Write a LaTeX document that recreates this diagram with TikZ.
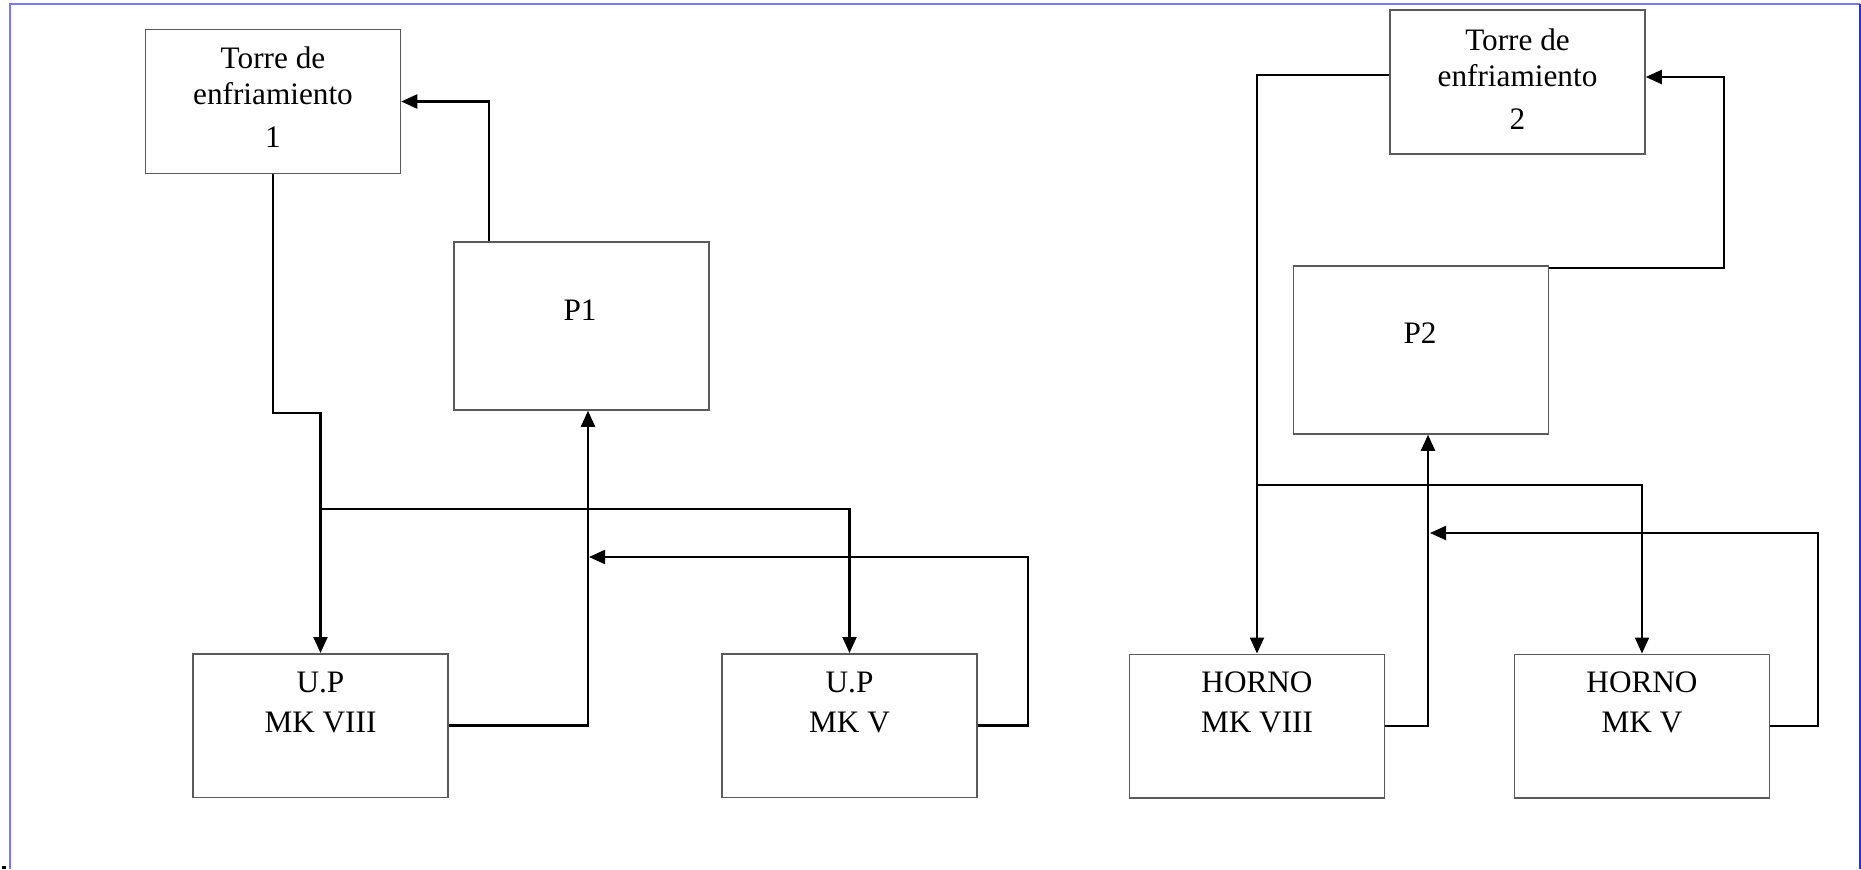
\documentclass[tikz,border=0pt]{standalone}
\usepackage{fontspec}
\setmainfont{Liberation Serif}
\usetikzlibrary{arrows.meta}
\definecolor{framelight}{RGB}{120,120,255}
\definecolor{framedark}{RGB}{40,40,255}
\definecolor{boxgray}{RGB}{90,90,90}
\newcommand{\mlines}[1]{\begin{tabular}[t]{@{}c@{}}#1\end{tabular}}
\begin{document}
\begin{tikzpicture}[x=0.4pt,y=-0.4pt,
  box/.style={draw=boxgray,line width=0.6pt,rectangle,inner sep=0pt,minimum width=102pt},
  tower/.style={box,minimum height=57.6pt},
  pump/.style={box,minimum height=67.2pt},
  unit/.style={box,minimum height=57.4pt},
  lbl/.style={inner sep=0pt,anchor=base,font=\fontsize{12.5}{14.4}\selectfont},
  conn/.style={line width=0.85pt,black},
  arr/.style={conn,-{Triangle[length=6.4pt,width=5.6pt]}}
]
\useasboundingbox (0,0) rectangle (1861,869);
% frame
\draw[framelight,line width=0.9pt] (10,869) -- (10,4) -- (1860,4);
\draw[framedark,line width=0.9pt] (1860,4) -- (1860,869);
\fill[black] (2,866) rectangle (6,869);

% left group boxes
\node[tower] (t1) at (273,101.5) {};
\node[pump] (p1) at (581.5,326) {};
\node[unit] (up8) at (320.5,725.5) {};
\node[unit] (up5) at (849.5,725.5) {};
% right group boxes
\node[tower] (t2) at (1517.5,82) {};
\node[pump] (p2) at (1421,350) {};
\node[unit] (h8) at (1257,726) {};
\node[unit] (h5) at (1642,726) {};

% texts
\node[lbl] (t1txt) at (273,68) {\mlines{Torre de\\enfriamiento\\[2.8pt]1}};
\node[lbl] (p1txt) at (580,320) {P1};
\node[lbl] (up8txt) at (320.5,692) {\mlines{U.P\\[1.6pt]MK VIII}};
\node[lbl] (up5txt) at (849.5,692) {\mlines{U.P\\[1.6pt]MK V}};
\node[lbl] (t2txt) at (1517.5,50) {\mlines{Torre de\\enfriamiento\\[2.8pt]2}};
\node[lbl] (p2txt) at (1420,343) {P2};
\node[lbl] (h8txt) at (1257,692) {\mlines{HORNO\\[1.6pt]MK VIII}};
\node[lbl] (h5txt) at (1642,692) {\mlines{HORNO\\[1.6pt]MK V}};

% helper coordinates
\coordinate (j1) at (0,413);
\coordinate (b1) at (321,509);
\coordinate (c1) at (588,0);
\coordinate (c2) at (589,557);
\coordinate (c3) at (489,0);
\coordinate (d1) at (0,75);
\coordinate (b2) at (1257,485);
\coordinate (e1) at (1428,0);
\coordinate (e2) at (1430,533);
\coordinate (f1) at (0,268);
\coordinate (f3) at (1724,77);

% left connectors
\draw[arr] (t1.south) -- (t1.south |- j1) -| (up8.north);
\draw[arr] (b1) -| (up5.north);
\draw[arr] (up8.east) -| (p1.south -| c1);
\draw[arr] (up5.east) -- ++(50,0) |- (c2);
\draw[arr] (p1.north -| c3) |- (t1.east);
% right connectors
\draw[arr] (t2.west |- d1) -| (h8.north);
\draw[arr] (b2) -| (h5.north);
\draw[arr] (h8.east) -| (p2.south -| e1);
\draw[arr] (h5.east) -- ++(48,0) |- (e2);
\draw[arr] (p2.north east |- f1) -| (f3) -- (t2.east |- f3);
\end{tikzpicture}
\end{document}
